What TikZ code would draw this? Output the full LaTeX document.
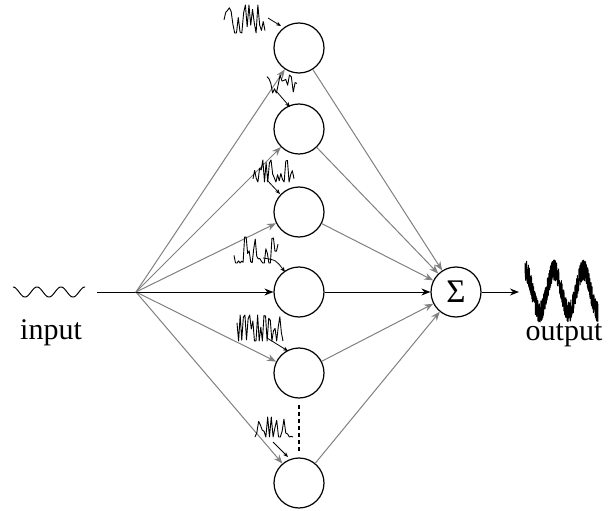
\documentclass[tikz,border=0pt]{standalone}
\usepackage{fontspec}
\setmainfont{Liberation Serif}
\usetikzlibrary{arrows.meta}
\begin{document}
\begin{tikzpicture}[x=1pt,y=-1pt,
  neuron/.style={circle,draw,line width=1.2pt,minimum size=50pt,inner sep=0pt},
  link/.style={draw=gray,line width=1pt,-{Stealth[length=9pt,width=7pt]}},
  mainlink/.style={draw=black,line width=1pt,-{Stealth[length=9pt,width=7pt]}},
  sig/.style={line width=0.9pt,line join=round},
  ptr/.style={line width=0.8pt,-{Stealth[length=5pt,width=4pt]}},
  lbl/.style={anchor=base,inner sep=0pt,font=\fontsize{30}{30}\selectfont}]
\useasboundingbox (0,0) rectangle (614,511);
% neurons
\node[neuron] (n1) at (299,48) {};
\node[neuron] (n2) at (299,129) {};
\node[neuron] (n3) at (299,212) {};
\node[neuron] (n4) at (299,292) {};
\node[neuron] (n5) at (299,373) {};
\node[neuron] (n6) at (299,483) {};
\node[neuron] (s) at (456,292) {\fontsize{33}{33}\selectfont Σ};
\coordinate (f) at (136,292);
\coordinate (in) at (97,292);
\coordinate (out) at (519,292);
% connections
\draw[line width=1pt] (in) -- (f);
\foreach \i in {1,2,3,5,6} \draw[link] (f) -- (n\i);
\draw[mainlink] (f) -- (n4);
\foreach \i in {1,2,3,5,6} \draw[link] (n\i) -- (s);
\draw[mainlink] (n4) -- (s);
\draw[mainlink] (s) -- (out);
% dots
\coordinate (d1) at (299,405);
\coordinate (d2) at (299,452);
\draw[line width=2.5pt,dash pattern=on 4pt off 3pt] (d1) -- (d2);
% input wave
\draw[line width=1pt] plot[domain=13:85,samples=120,smooth] (\x,{292-5*cos((\x-13)*15)});
\node[lbl] (tin) at (51,339) {input};
% output signal
\pgfmathsetseed{7}
\draw[line width=1pt,line join=round] plot[domain=525:598,samples=400] (\x,{291-21*cos((\x-525)*12.33)+max(-10,min(10,15*rand))});
\node[lbl] (tout) at (564,340) {output};
% noise squiggles
\pgfmathsetseed{11}
\draw[sig] plot[domain=224:265,samples=24] (\x,{19+max(-14,min(14,22*rand))});
\pgfmathsetseed{23}
\draw[sig] plot[domain=267:297,samples=17] (\x,{84+max(-9,min(9,14*rand))});
\pgfmathsetseed{37}
\draw[sig] plot[domain=253:294,samples=26] (\x,{171+max(-11,min(11,17*rand))});
\pgfmathsetseed{41}
\draw[sig] plot[domain=234:278,samples=30] (\x,{250+max(-13,min(13,19*rand))});
\pgfmathsetseed{53}
\draw[sig] plot[domain=237:283,samples=30] (\x,{328+max(-13,min(13,19*rand))});
\pgfmathsetseed{67}
\draw[sig] plot[domain=255:293,samples=22] (\x,{427+max(-10,min(10,15*rand))});
% small pointers
\coordinate (p1s) at (268,18);  \coordinate (p1e) at (281,26);
\coordinate (p2s) at (277,92);  \coordinate (p2e) at (290,107);
\coordinate (p3s) at (267,180); \coordinate (p3e) at (280,194);
\coordinate (p4s) at (263,258); \coordinate (p4e) at (285,272);
\coordinate (p5s) at (267,338); \coordinate (p5e) at (288,351);
\coordinate (p6s) at (273,442); \coordinate (p6e) at (288,457);
\draw[ptr] (p1s) -- (p1e);
\draw[ptr] (p2s) -- (p2e);
\draw[ptr] (p3s) -- (p3e);
\draw[ptr] (p4s) .. controls (276,260) .. (p4e);
\draw[ptr] (p5s) -- (p5e);
\draw[ptr] (p6s) -- (p6e);
\end{tikzpicture}
\end{document}
